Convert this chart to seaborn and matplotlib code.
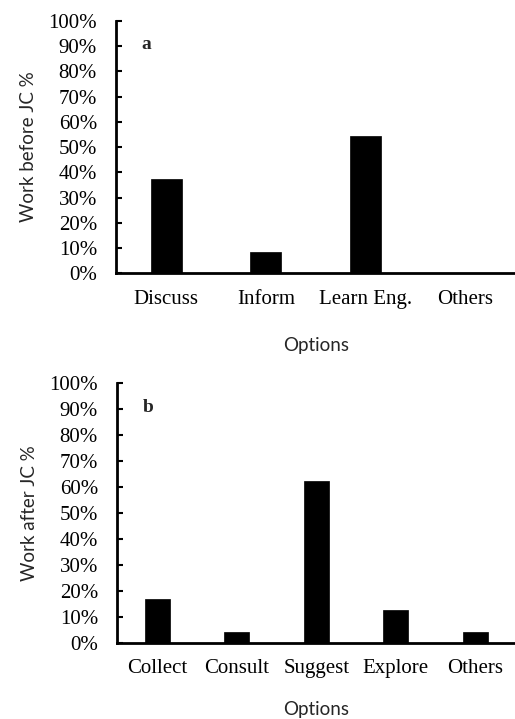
import matplotlib
matplotlib.use("Agg")
import matplotlib.pyplot as plt
import seaborn as sns
import pandas as pd
from matplotlib.ticker import PercentFormatter, MultipleLocator

cats_a = ["Discuss", "Inform", "Learn Eng.", "Others"]
vals_a = [37.5, 8.3, 54.2, 0.0]
cats_b = ["Collect", "Consult", "Suggest", "Explore", "Others"]
vals_b = [16.7, 4.2, 62.5, 12.5, 4.2]
ylabel_a = "Work before JC %"
ylabel_b = "Work after JC %"
xlabel = "Options"

sns.set_theme(style="white")
plt.rcParams["font.family"] = ["Liberation Serif", "DejaVu Serif"]

fig = plt.figure(figsize=(5.15, 7.19), dpi=100)
ax_a = fig.add_axes([0.226, 0.620, 0.774, 0.351])
ax_b = fig.add_axes([0.228, 0.106, 0.772, 0.361])

def draw(ax, cats, vals, ylabel, tag, width, xlabpad):
    df = pd.DataFrame({"cat": cats, "val": vals})
    sns.barplot(data=df, x="cat", y="val", ax=ax, color="black", width=width,
                edgecolor="black", linewidth=0.5, saturation=1)
    ax.set_ylim(0, 100)
    ax.set_xlim(-0.5, len(cats) - 0.5)
    ax.yaxis.set_major_locator(MultipleLocator(10))
    ax.yaxis.set_major_formatter(PercentFormatter(decimals=0))
    for s in ["top", "right"]:
        ax.spines[s].set_visible(False)
    for s in ["left", "bottom"]:
        ax.spines[s].set_color("black")
        ax.spines[s].set_linewidth(2)
    ax.tick_params(axis="y", which="major", left=True, length=4, width=1.5,
                   direction="in", color="black", labelsize=15, pad=14, labelcolor="black")
    ax.tick_params(axis="x", bottom=False, labelsize=15, pad=6, labelcolor="black")
    ax.set_ylabel(ylabel, family=["Lato", "DejaVu Sans"], fontsize=13.5, labelpad=8)
    ax.set_xlabel(xlabel, family=["Lato", "DejaVu Sans"], fontsize=13.5, labelpad=xlabpad)
    ax.text(0.063, 0.905, tag, transform=ax.transAxes, fontsize=14, fontweight="bold",
            ha="left", va="center")
    ax.grid(False)

draw(ax_a, cats_a, vals_a, ylabel_a, "a", 0.31, 20)
draw(ax_b, cats_b, vals_b, ylabel_b, "b", 0.31, 16)

fig.savefig("out.png", dpi=100)
